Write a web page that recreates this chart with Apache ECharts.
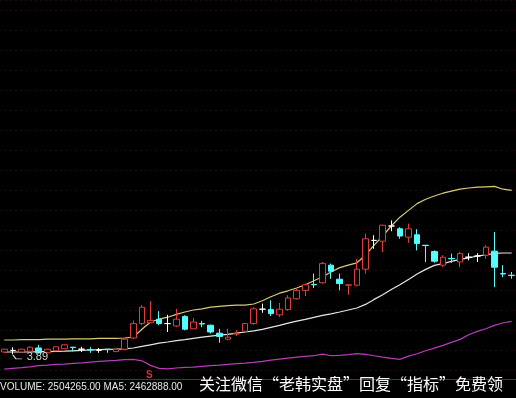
<!DOCTYPE html>
<html>
<head>
<meta charset="utf-8">
<script src="https://cdn.jsdelivr.net/npm/echarts@6/dist/echarts.min.js"></script>
<style>html,body{margin:0;padding:0;background:#000;}#c{width:516px;height:398px;}</style>
</head>
<body>
<div id="c"></div>
<script>
// ---- data ----
const categories = ['1','2','3','4','5','6','7','8','9','10','11','12','13','14','15','16','17','18','19','20',
  '21','22','23','24','25','26','27','28','29','30','31','32','33','34','35','36','37','38','39','40',
  '41','42','43','44','45','46','47','48','49','50','51','52','53','54','55','56','57','58','59','60'];
// [open, close, low, high]
const ohlc = [
[3.95,4.02,3.93,4.03],[3.99,3.99,3.89,4.07],[3.95,4.02,3.93,4.03],[3.97,4.07,3.95,4.09],[4.05,3.93,3.91,4.13],
[3.93,4.02,3.92,4.03],[3.98,4.08,3.97,4.09],[4.03,4.13,4.02,4.14],[4.07,4.06,3.97,4.07],[4.02,4.02,3.95,4.08],
[4.01,4.00,3.93,4.07],[3.99,3.99,3.93,4.05],[4.02,4.01,3.93,4.02],[3.96,4.02,3.95,4.03],[4.02,4.27,3.99,4.30],
[4.30,4.66,4.27,4.74],[4.66,5.07,4.62,5.12],[4.68,4.74,4.68,5.22],[4.77,4.66,4.62,4.97],[4.66,4.66,4.45,4.88],
[4.60,4.77,4.57,5.03],[4.84,4.52,4.49,4.87],[4.53,4.70,4.52,4.80],[4.66,4.65,4.57,4.73],[4.62,4.45,4.41,4.63],
[4.42,4.34,4.18,4.53],[4.27,4.32,4.24,4.53],[4.40,4.41,4.35,4.50],[4.47,4.66,4.45,4.68],[4.66,5.03,4.63,5.07],
[5.02,5.02,4.93,5.16],[5.01,4.91,4.85,5.24],[4.88,5.02,4.82,5.18],[5.01,5.30,4.98,5.37],[5.28,5.49,5.26,5.53],
[5.49,5.63,5.35,5.66],[5.64,5.63,5.55,5.91],[5.68,6.16,5.66,6.20],[6.12,5.97,5.78,6.16],[5.77,5.66,5.49,5.91],
[5.62,5.63,5.38,5.63],[5.62,6.02,5.59,6.28],[6.02,6.78,5.91,6.91],[6.74,6.74,6.53,6.87],[6.72,7.12,6.45,7.13],
[7.10,7.10,6.97,7.24],[7.03,6.85,6.78,7.07],[6.82,7.03,6.68,7.16],[6.88,6.66,6.49,7.02],[6.62,6.61,6.20,6.62],
[6.46,6.22,6.18,6.49],[6.12,6.32,6.07,6.37],[6.29,6.28,6.18,6.41],[6.20,6.41,6.07,6.45],[6.32,6.32,6.24,6.42],
[6.35,6.35,6.20,6.42],[6.37,6.57,6.28,6.62],[6.47,6.07,5.57,6.95],[5.91,5.90,5.82,6.12],[5.87,5.86,5.78,5.95]
];
const upperBand = [4.25,4.25,4.26,4.26,4.26,4.27,4.27,4.27,4.28,4.28,4.28,4.29,4.29,4.29,
  4.30,4.32,4.52,4.70,4.77,4.82,4.89,4.95,5.00,5.03,
  5.07,5.09,5.11,5.12,5.12,5.15,5.23,5.33,5.42,5.48,
  5.55,5.63,5.73,5.83,5.95,6.06,6.12,6.18,6.37,6.62,
  6.85,7.10,7.32,7.49,7.66,7.77,7.85,7.92,7.97,8.02,
  8.05,8.07,8.08,8.09,8.02,7.99];
const midBand = [3.95,3.95,3.95,3.95,3.96,3.96,3.965,3.97,3.98,3.99,
  4.00,4.01,4.015,4.02,4.03,4.05,4.09,4.13,4.17,4.20,
  4.235,4.26,4.29,4.32,4.345,4.37,4.39,4.42,4.45,4.48,
  4.515,4.565,4.615,4.67,4.72,4.765,4.815,4.865,4.905,4.95,
  5.00,5.05,5.14,5.265,5.38,5.51,5.63,5.765,5.90,6.015,
  6.115,6.16,6.215,6.265,6.305,6.35,6.38,6.415,6.425,6.425];
const lowerBand = [3.523,3.54,3.557,3.58,3.607,3.623,3.64,3.648,3.665,3.68,
  3.698,3.715,3.73,3.74,3.757,3.765,3.73,3.615,3.54,3.53,
  3.55,3.565,3.573,3.59,3.607,3.623,3.64,3.657,3.673,3.69,
  3.715,3.748,3.773,3.798,3.823,3.84,3.857,3.898,3.857,3.865,
  3.882,3.907,3.89,3.857,3.823,3.79,3.765,3.848,3.907,3.982,
  4.048,4.115,4.19,4.265,4.382,4.465,4.532,4.615,4.682,4.715];
const volumeText = 'VOLUME: 2504265.00 MA5: 2462888.00';
const noteText = '关注微信“老韩实盘”回复“指标”免费领';

// ---- chart ----
const chart = echarts.init(document.getElementById('c'), null, {renderer: 'canvas'});
const lineStyle = (c) => ({ type: 'line', smooth: false, symbol: 'none', silent: true,
  lineStyle: { color: c, width: 1.2 }, z: 2 });
chart.setOption({
  animation: false,
  backgroundColor: '#000000',
  grid: { left: -1.6, right: -3.2, top: 0, bottom: 28 },
  xAxis: {
    type: 'category', data: categories, boundaryGap: true,
    axisLine: { show: false }, axisTick: { show: false }, axisLabel: { show: false }, splitLine: { show: false }
  },
  yAxis: {
    type: 'value', min: 3.5, max: 12.75, interval: 0.5,
    axisLine: { show: false }, axisTick: { show: false }, axisLabel: { show: false },
    splitLine: { show: true, lineStyle: { color: '#24070c', type: [2, 3], width: 1 } }
  },
  series: [
    Object.assign(lineStyle('#d6cc78'), { name: 'UPPER', data: upperBand }),
    Object.assign(lineStyle('#e6e6e6'), { name: 'MID', data: midBand }),
    Object.assign(lineStyle('#b83cb8'), { name: 'LOWER', data: lowerBand }),
    {
      name: 'K', type: 'candlestick', data: ohlc, barWidth: 6, z: 3,
      itemStyle: {
        color: '#000000', borderColor: '#e03c3c',
        color0: '#54fcfc', borderColor0: '#54fcfc',
        borderColorDoji: '#ffffff', borderWidth: 1
      },
      markPoint: {
        symbol: 'path://M0,0 L3,4 L9,4',
        symbolSize: [9, 4], symbolOffset: [4.5, 2.5],
        itemStyle: { color: 'none', borderColor: '#d0d0d0', borderWidth: 1 },
        label: { show: true, position: 'right', distance: 1, color: '#d0d0d0', fontSize: 11,
          fontFamily: 'Liberation Sans, Arial, sans-serif', formatter: '{c}' },
        data: [{ type: 'min', valueDim: 'lowest' }]
      }
    }
  ],
  graphic: [
    { type: 'line', silent: true, shape: { x1: 0, y1: 379.5, x2: 516, y2: 379.5 },
      style: { stroke: '#8a1c1c', lineWidth: 1 } },
    { type: 'text', silent: true, x: 146, y: 370,
      style: { text: 'S', fill: '#e03030', font: 'bold 10px "Liberation Sans", Arial' } },
    { type: 'text', silent: true, x: 0, y: 387.5,
      style: { text: volumeText, fill: '#e8e8e8', textVerticalAlign: 'middle',
        font: '10px "Liberation Sans", Arial' } },
    { type: 'text', silent: true, x: 199, y: 384,
      style: { text: noteText, fill: '#ffffff', textVerticalAlign: 'middle',
        font: '16px "Noto Sans CJK SC", sans-serif' } }
  ]
});
</script>
</body>
</html>
